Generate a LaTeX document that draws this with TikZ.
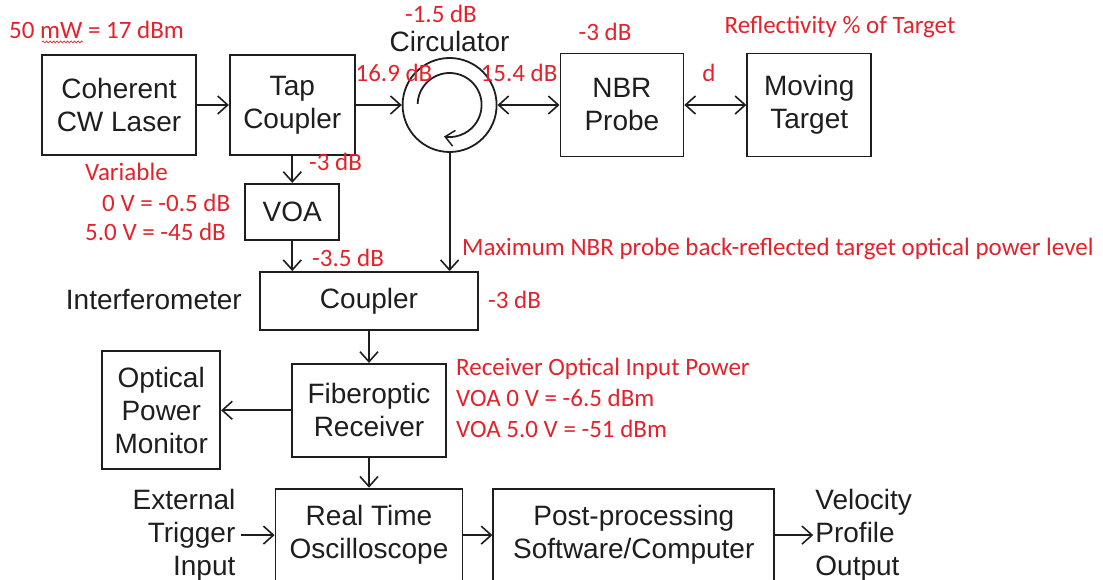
\documentclass[tikz,border=0pt]{standalone}
\usepackage{fontspec}
\setmainfont{Liberation Sans}
\newfontfamily\annotfont{Carlito}
\usetikzlibrary{positioning,arrows.meta,decorations.pathmorphing}
\definecolor{ink}{HTML}{1E1E1E}
\definecolor{annot}{HTML}{E3222B}

\begin{document}
\begin{tikzpicture}[
  x=1pt, y=-1pt,
  font=\fontsize{28}{33}\selectfont,
  box/.style={draw=ink, line width=1.8pt, align=center, inner sep=0pt, text=ink},
  txt/.style={text=ink, inner sep=0pt},
  lbl/.style={text=annot, inner sep=0pt, align=left, font=\annotfont\fontsize{25}{31}\selectfont},
  arr/.style={-{Straight Barb[length=10pt, width=18pt, line width=1.6pt]}, line width=1.8pt, ink},
  darr/.style={{Straight Barb[length=10pt, width=18pt, line width=1.6pt]}-{Straight Barb[length=10pt, width=18pt, line width=1.6pt]}, line width=1.8pt, ink}
]
\useasboundingbox (0,0) rectangle (1103,580);

\node[box, minimum width=154pt, minimum height=100pt] (laser) at (119,105) {Coherent\\CW Laser};
\node[box, minimum width=125pt, minimum height=100pt, right=32pt of laser] (tap) {Tap\\Coupler};
\node[box, circle, minimum size=94pt, right=46pt of tap] (circ) {};
\node[box, minimum width=123pt, minimum height=103pt, right=62pt of circ] (nbr) {NBR\\Probe};
\node[box, minimum width=124pt, minimum height=103pt, right=62pt of nbr] (target) {Moving\\Target};
\node[box, minimum width=94pt, minimum height=56pt, below=27pt of tap] (voa) {VOA};
\node[box, minimum width=218pt, minimum height=58pt] (coupler) at (369,301) {Coupler};
\node[box, minimum width=154pt, minimum height=93pt, below=32pt of coupler] (rx) {Fiberoptic\\Receiver};
\node[box, minimum width=118pt, minimum height=118pt, left=70pt of rx] (opm) {Optical\\Power\\Monitor};
\node[box, minimum width=187pt, minimum height=93pt, below=30pt of rx] (osc) {Real Time\\Oscilloscope};
\node[box, minimum width=281pt, minimum height=93pt, right=29pt of osc] (post) {Post-processing\\Software/Computer};
\node[txt, align=left, right=40pt of post] (vel) {Velocity\\Profile\\Output};
\node[txt, align=right, left=39pt of osc] (trig) {External\\Trigger\\Input};
\node[txt, above=5pt of circ] (circname) {Circulator};
\node[txt, anchor=east] (interf) at (242,300) {Interferometer};

\draw[arr] (laser) -- (tap);
\draw[arr] (tap) -- (circ);
\draw[darr] (circ) -- (nbr);
\draw[darr] (nbr) -- (target);
\draw[arr] (tap) -- (voa);
\draw[arr] (voa.south) -- (voa.south |- coupler.north);
\draw[arr] (circ.south) -- (circ.south |- coupler.north);
\draw[arr] (coupler) -- (rx);
\draw[arr] (rx) -- (opm);
\draw[arr] (rx) -- (osc);
\draw[arr, shorten <=5pt] (trig) -- (osc);
\draw[arr] (osc) -- (post);
\draw[arr, shorten >=2pt] (post) -- (vel);
\draw[-{Straight Barb[length=9pt, width=16pt, line width=1.5pt]}, line width=1.8pt, ink]
  ([shift={(178:32pt)}]circ.center) arc[start angle=178, end angle=-100, radius=32pt];

\node[lbl, anchor=west] (power) at (9,30) {50 mW = 17 dBm};
\draw[annot, line width=0.7pt, decorate, decoration={snake, amplitude=1pt, segment length=3.5pt}]
  ([xshift=33pt, yshift=-3pt]power.south west) -- ([xshift=74pt, yshift=-3pt]power.south west);
\node[lbl] (circloss) at (441,14) {-1.5 dB};
\node[lbl] (inlevel) at (394,73) {16.9 dB};
\node[lbl] (outlevel) at (519,73) {15.4 dB};
\node[lbl] (probeloss) at (605,32) {-3 dB};
\node[lbl] (refl) at (840,27) {Reflectivity \% of Target};
\node[lbl] (dist) at (709,73) {d};
\node[lbl, anchor=west] (var) at (85,172) {Variable};
\node[lbl, anchor=west] (var0) at (102,203) {0 V = -0.5 dB};
\node[lbl, anchor=west] (var5) at (85,232) {5.0 V = -45 dB};
\node[lbl, anchor=west] (taploss) at (309,162) {-3 dB};
\node[lbl, anchor=west] (voaloss) at (312,258) {-3.5 dB};
\node[lbl, anchor=west] (maxlevel) at (462,249) {Maximum NBR probe back-reflected target optical power level};
\node[lbl, anchor=west] (couplerloss) at (488,300) {-3 dB};
\node[lbl, anchor=north west] (rxpower) at (456,358) {Receiver Optical Input Power\\VOA 0 V = -6.5 dBm\\VOA 5.0 V = -51 dBm};
\end{tikzpicture}
\end{document}
